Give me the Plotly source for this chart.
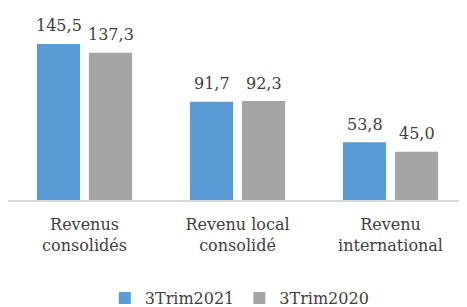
import plotly.graph_objects as go

categories = ["Revenus<br>consolidés", "Revenu local<br>consolidé", "Revenu<br>international"]
series_names = ["3Trim2021", "3Trim2020"]
values_2021 = [145.5, 91.7, 53.8]
values_2020 = [137.3, 92.3, 45.0]
colors = ["#5b9bd5", "#a5a5a5"]

FONT = "DejaVu Serif"
TXT = "#404040"
fig = go.Figure()
for name, vals, col in zip(series_names, [values_2021, values_2020], colors):
    fig.add_trace(go.Bar(
        x=categories, y=vals, name=name, marker_color=col,
        marker_line_width=0,
    ))

# data labels, placed on the data coordinates of each bar
for vals, xs in zip([values_2021, values_2020], [-26, 26]):
    for c, v in zip(categories, vals):
        fig.add_annotation(x=c, y=v, text=f"{v:.1f}".replace(".", ","),
                           xshift=xs, yshift=18, showarrow=False,
                           yanchor="middle",
                           font=dict(family=FONT, size=16, color=TXT))

# page body adds an 8px offset, so the figure is 8px smaller than the window
fig.update_layout(
    width=459, height=299,
    margin=dict(l=0, r=0, t=2, b=107, autoexpand=False),
    barmode="group", bargap=0.32, bargroupgap=0.17,
    separators=",.",
    plot_bgcolor="white", paper_bgcolor="white",
    font=dict(family=FONT, size=16, color=TXT),
    showlegend=True,
    legend=dict(orientation="h", x=0.505, xanchor="center", y=-0.516, yanchor="middle",
                font=dict(family=FONT, size=16, color=TXT),
                traceorder="normal"),
)
fig.update_xaxes(showline=True, linecolor="#d9d9d9", linewidth=2, automargin=False,
                 ticks="outside", ticklen=9, tickcolor="rgba(0,0,0,0)",
                 tickfont=dict(family=FONT, size=16, color=TXT))
fig.update_yaxes(range=[0, 177.2], visible=False, showgrid=False)

fig.write_html("out.html")
